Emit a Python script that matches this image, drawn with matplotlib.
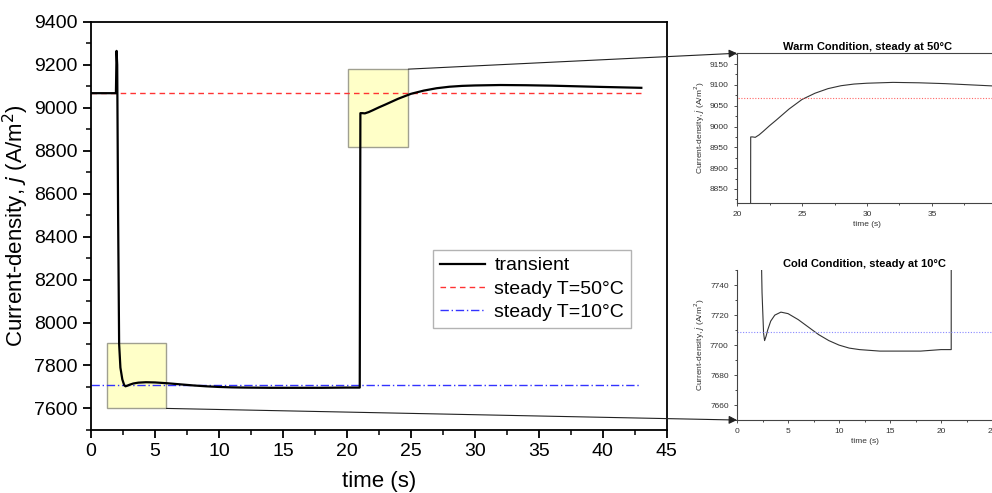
import numpy as np
import matplotlib.pyplot as plt
from matplotlib.patches import Rectangle, ConnectionPatch
from matplotlib.ticker import MultipleLocator

plt.rcParams['font.family'] = ['Liberation Sans', 'DejaVu Sans']

# transient current density
t_tr = [0, 1.95, 2.0, 2.05, 2.12, 2.2, 2.3, 2.45, 2.6, 2.7, 2.85, 3.0, 3.3, 3.7, 4.3, 5.0, 6.0,
        7.0, 8.0, 9.0, 10.0, 11.0, 12.0, 14.0, 16.0, 18.0, 20.0, 21.0, 21.05, 21.2, 21.4, 21.7,
        22.0, 22.5, 23.0, 24.0, 25.0, 26.0, 27.0, 28.0, 29.0, 30.0, 32.0, 34.0, 36.0, 38.0,
        40.0, 43.0]
j_tr = [9068, 9068, 9265, 9200, 8500, 7900, 7790, 7735, 7708, 7703, 7706, 7710, 7716, 7720,
        7722, 7721, 7717, 7712, 7707, 7703, 7700, 7698, 7697, 7696, 7696, 7696, 7697, 7697,
        8975, 8975, 8974, 8980, 8988, 9002, 9015, 9042, 9065, 9080, 9091, 9098, 9102, 9104,
        9106, 9105, 9103, 9100, 9097, 9093]

t_steady = [0, 43]
j_warm = [9068, 9068]
j_cold = [7709, 7709]

# zoom windows
warm_box_t = [20.1, 24.8]
warm_box_j = [8816, 9180]
cold_box_t = [1.25, 5.9]
cold_box_j = [7600, 7904]
warm_xlim = [20, 40]
warm_ylim = [8816, 9176]
cold_xlim = [0, 25]
cold_ylim = [7650, 7750]

fig = plt.figure(figsize=(9.92, 4.93), dpi=100)
ax = fig.add_axes([0.0917, 0.128, 0.5806, 0.8276])

ax.plot(t_tr, j_tr, color='black', lw=1.6, label='transient', zorder=3)
ax.plot(t_steady, j_warm, color='#ff3333', lw=1, ls=(0, (4, 3)), label='steady T=50°C')
ax.plot(t_steady, j_cold, color='#3333ff', lw=1, ls=(0, (6, 2, 1, 2)), label='steady T=10°C')

for bt, bj in [(warm_box_t, warm_box_j), (cold_box_t, cold_box_j)]:
    ax.add_patch(Rectangle((bt[0], bj[0]), bt[1] - bt[0], bj[1] - bj[0],
                           facecolor='#ffffc8', edgecolor='#a0a090', lw=1, zorder=1))

ax.set_xlim(0, 45)
ax.set_ylim(7500, 9400)
ax.xaxis.set_major_locator(MultipleLocator(5))
ax.xaxis.set_minor_locator(MultipleLocator(2.5))
ax.yaxis.set_major_locator(MultipleLocator(200))
ax.yaxis.set_minor_locator(MultipleLocator(100))
ax.tick_params(which='major', direction='out', length=6, width=1.3, labelsize=14)
ax.tick_params(which='minor', direction='out', length=3.5, width=1.1)
for s in ax.spines.values():
    s.set_linewidth(1.3)
ax.set_xlabel('time (s)', fontsize=16, labelpad=8)
ax.set_ylabel('Current-density, $\\mathit{j}$ (A/m$^2$)', fontsize=16, labelpad=2)

leg = ax.legend(loc='upper left', bbox_to_anchor=(0.594, 0.441), fontsize=14, frameon=True,
                fancybox=False, handlelength=2.3, handletextpad=0.5, borderpad=0.35,
                labelspacing=0.3, borderaxespad=0)
leg.get_frame().set_edgecolor('#a0a0a0')
leg.get_frame().set_linewidth(1)

# insets
axw = fig.add_axes([0.743, 0.588, 0.262, 0.304])
axc = fig.add_axes([0.743, 0.148, 0.257, 0.304])

for a, title, xl, yl, ymaj, xmaj, col, jst in [
        (axw, 'Warm Condition, steady at 50°C', warm_xlim, warm_ylim, 50, 5, '#ff6666', j_warm),
        (axc, 'Cold Condition, steady at 10°C', cold_xlim, cold_ylim, 20, 5, '#8888ff', j_cold)]:
    a.plot(t_tr, j_tr, color='#333333', lw=0.8)
    a.plot(t_steady, jst, color=col, lw=0.8, ls=(0, (1, 1.5)))
    a.set_xlim(xl)
    a.set_ylim(yl)
    a.xaxis.set_major_locator(MultipleLocator(xmaj))
    a.xaxis.set_minor_locator(MultipleLocator(xmaj / 2))
    a.yaxis.set_major_locator(MultipleLocator(ymaj))
    a.yaxis.set_minor_locator(MultipleLocator(ymaj / 2))
    a.tick_params(which='major', length=2.5, width=0.6, labelsize=6, colors='#333333')
    a.tick_params(which='minor', length=1.5, width=0.5)
    a.spines['right'].set_visible(False)
    for s in a.spines.values():
        s.set_linewidth(0.8)
        s.set_color('#444444')
    a.set_title(title, fontsize=8, fontweight='bold', pad=2)
    a.set_xlabel('time (s)', fontsize=6, color='#333333', labelpad=2)
    a.set_ylabel('Current-density, $\\mathit{j}$ (A/m$^2$)', fontsize=6, color='#333333', labelpad=2)
axc.spines['top'].set_visible(False)

# connectors from the zoom boxes to the insets
for (xa, ya), a, xyb in [((warm_box_t[1], warm_box_j[1]), axw, (0, 1)),
                         ((cold_box_t[1], cold_box_j[0]), axc, (0, 0))]:
    con = ConnectionPatch(xyA=(xa, ya), coordsA=ax.transData, xyB=xyb, coordsB=a.transAxes,
                          arrowstyle='-|>', mutation_scale=12, color='#222222', lw=0.8)
    fig.add_artist(con)

fig.savefig('out.png', dpi=100)
